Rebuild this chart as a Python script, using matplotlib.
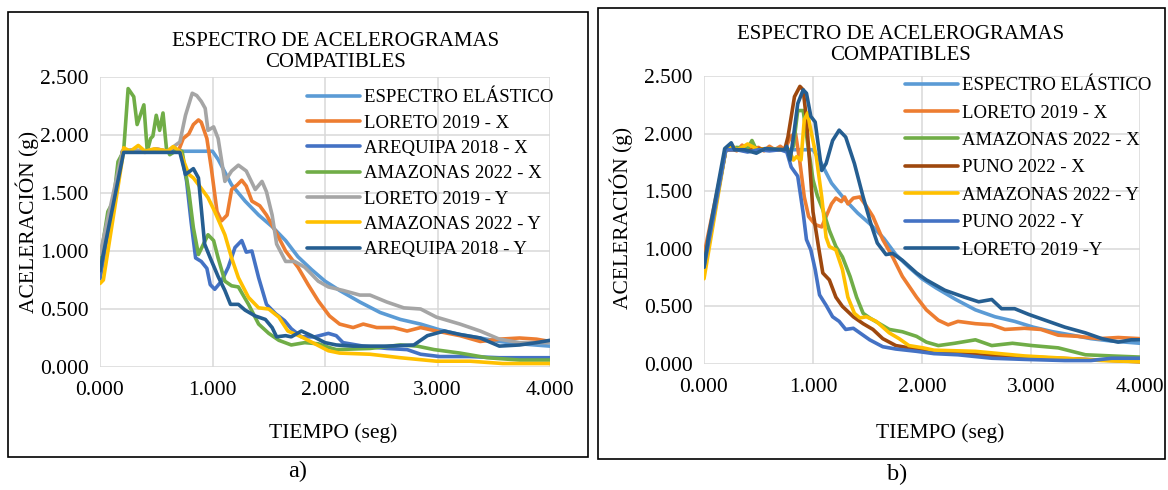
import matplotlib
matplotlib.use("Agg")
import matplotlib.pyplot as plt
from matplotlib.patches import Rectangle

plt.rcParams["font.family"] = ["Liberation Serif", "DejaVu Serif"]

# ---- datos: espectro elástico (común a ambos paneles)
esp_t = [0.0, 0.2, 1.0, 1.05, 1.17, 1.29, 1.41, 1.53, 1.65, 1.76, 1.88, 2.0, 2.13,
         2.31, 2.49, 2.67, 2.85, 3.02, 3.2, 3.38, 3.55, 3.73, 4.0]
esp_v = [0.80, 1.86, 1.86, 1.79, 1.57, 1.43, 1.31, 1.21, 1.09, 0.95, 0.84, 0.74, 0.66,
         0.56, 0.47, 0.41, 0.37, 0.32, 0.28, 0.25, 0.22, 0.20, 0.18]

# ---- panel a)
a_lorx_t = [0, 0.05, 0.1, 0.2, 0.3, 0.4, 0.5, 0.6, 0.7, 0.74, 0.79, 0.83, 0.875, 0.9, 0.95,
            0.99, 1.04, 1.08, 1.13, 1.17, 1.22, 1.26, 1.3, 1.35, 1.42, 1.48, 1.56, 1.65,
            1.76, 1.85, 1.94, 2.04, 2.13, 2.25, 2.34, 2.46, 2.61, 2.73, 2.85, 2.99, 3.2,
            3.38, 3.55, 3.73, 3.88, 4.0]
a_lorx_v = [0.78, 1.05, 1.35, 1.86, 1.87, 1.85, 1.88, 1.86, 1.87, 1.97, 2.01, 2.09, 2.13,
            2.11, 1.97, 1.71, 1.34, 1.26, 1.31, 1.53, 1.57, 1.61, 1.56, 1.43, 1.39, 1.31,
            1.17, 1.0, 0.86, 0.71, 0.57, 0.44, 0.37, 0.34, 0.37, 0.34, 0.34, 0.31, 0.34,
            0.31, 0.27, 0.22, 0.24, 0.25, 0.24, 0.22]

a_arex_t = [0, 0.2, 0.3, 0.4, 0.5, 0.6, 0.72, 0.77, 0.81, 0.85, 0.9, 0.95, 0.98, 1.02,
            1.08, 1.14, 1.2, 1.26, 1.3, 1.35, 1.41, 1.48, 1.56, 1.64, 1.7, 1.79, 1.91,
            2.03, 2.1, 2.16, 2.34, 2.55, 2.73, 2.85, 3.02, 3.29, 3.55, 4.0]
a_arex_v = [0.76, 1.86, 1.87, 1.86, 1.87, 1.86, 1.86, 1.6, 1.25, 0.94, 0.91, 0.85, 0.71,
            0.67, 0.74, 0.86, 1.03, 1.09, 0.99, 1.0, 0.77, 0.54, 0.46, 0.40, 0.33, 0.26,
            0.26, 0.29, 0.27, 0.21, 0.18, 0.16, 0.15, 0.11, 0.09, 0.09, 0.08, 0.08]

a_amax_t = [0, 0.015, 0.07, 0.12, 0.16, 0.21, 0.25, 0.3, 0.33, 0.39, 0.42, 0.45, 0.47,
            0.5, 0.53, 0.56, 0.59, 0.62, 0.67, 0.73, 0.79, 0.83, 0.875, 0.92, 0.96, 1.01,
            1.05, 1.11, 1.17, 1.23, 1.32, 1.41, 1.5, 1.59, 1.7, 1.82, 1.94, 2.03, 2.1,
            2.4, 2.67, 2.82, 2.97, 3.2, 3.44, 3.73, 4.0]
a_amax_v = [0.90, 1.0, 1.34, 1.43, 1.77, 1.86, 2.40, 2.33, 2.09, 2.26, 1.86, 1.97, 1.99,
            2.17, 2.04, 2.19, 1.89, 1.83, 1.86, 1.86, 1.51, 1.20, 0.97, 1.06, 1.14, 1.09,
            0.94, 0.74, 0.70, 0.69, 0.54, 0.37, 0.29, 0.23, 0.19, 0.21, 0.20, 0.17, 0.15,
            0.16, 0.19, 0.18, 0.15, 0.12, 0.08, 0.06, 0.06]

a_lory_t = [0, 0.2, 0.3, 0.4, 0.5, 0.6, 0.71, 0.76, 0.82, 0.86, 0.9, 0.935, 0.96, 1.01,
            1.05, 1.11, 1.17, 1.23, 1.3, 1.38, 1.44, 1.48, 1.53, 1.57, 1.65, 1.73, 1.82,
            1.94, 2.03, 2.16, 2.31, 2.4, 2.55, 2.7, 2.85, 2.99, 3.2, 3.38, 3.55, 3.73, 4.0]
a_lory_v = [0.97, 1.86, 1.87, 1.86, 1.88, 1.86, 1.94, 2.17, 2.36, 2.34, 2.29, 2.23, 2.04,
            2.07, 1.97, 1.60, 1.69, 1.74, 1.69, 1.53, 1.60, 1.51, 1.31, 1.06, 0.91, 0.91,
            0.86, 0.74, 0.69, 0.66, 0.62, 0.62, 0.56, 0.51, 0.50, 0.43, 0.37, 0.31, 0.24,
            0.21, 0.21]

a_amay_t = [0, 0.03, 0.2, 0.21, 0.27, 0.34, 0.4, 0.48, 0.55, 0.6, 0.65, 0.71, 0.79, 0.83,
            0.9, 0.96, 1.02, 1.11, 1.17, 1.23, 1.32, 1.41, 1.5, 1.59, 1.67, 1.79, 1.91,
            2.03, 2.13, 2.4, 2.67, 2.99, 3.29, 3.58, 4.0]
a_amay_v = [0.72, 0.75, 1.80, 1.89, 1.86, 1.91, 1.86, 1.88, 1.87, 1.86, 1.90, 1.86, 1.66,
            1.63, 1.54, 1.46, 1.34, 1.14, 0.94, 0.77, 0.60, 0.51, 0.50, 0.43, 0.31, 0.26,
            0.20, 0.14, 0.12, 0.11, 0.08, 0.05, 0.05, 0.03, 0.03]

a_arey_t = [0, 0.21, 0.3, 0.4, 0.5, 0.6, 0.71, 0.76, 0.83, 0.875, 0.93, 0.98, 1.05, 1.11,
            1.16, 1.23, 1.29, 1.38, 1.47, 1.53, 1.57, 1.65, 1.7, 1.79, 1.88, 2.0, 2.1,
            2.25, 2.55, 2.79, 2.91, 3.06, 3.2, 3.38, 3.55, 3.73, 3.88, 4.0]
a_arey_v = [0.83, 1.85, 1.85, 1.85, 1.85, 1.85, 1.85, 1.66, 1.71, 1.63, 1.06, 0.94, 0.78,
            0.66, 0.54, 0.54, 0.49, 0.44, 0.41, 0.34, 0.26, 0.27, 0.26, 0.31, 0.27, 0.21,
            0.19, 0.18, 0.18, 0.19, 0.27, 0.31, 0.28, 0.25, 0.18, 0.19, 0.21, 0.23]

# ---- panel b)
b_lorx_t = [0, 0.2, 0.25, 0.3, 0.35, 0.4, 0.5, 0.55, 0.6, 0.65, 0.7, 0.74, 0.8, 0.84, 0.88,
            0.92, 0.96, 1.02, 1.08, 1.12, 1.17, 1.21, 1.26, 1.29, 1.32, 1.37, 1.43, 1.49,
            1.55, 1.64, 1.73, 1.82, 1.95, 2.04, 2.15, 2.24, 2.33, 2.49, 2.64, 2.76, 2.94,
            3.09, 3.25, 3.43, 3.62, 3.8, 4.0]
b_lorx_v = [0.95, 1.86, 1.88, 1.85, 1.90, 1.86, 1.88, 1.85, 1.89, 1.86, 1.89, 1.86, 1.98,
            2.0, 1.75, 1.45, 1.28, 1.21, 1.19, 1.28, 1.39, 1.44, 1.41, 1.45, 1.39, 1.44,
            1.45, 1.37, 1.28, 1.08, 0.93, 0.76, 0.58, 0.47, 0.38, 0.34, 0.37, 0.35, 0.34,
            0.30, 0.31, 0.30, 0.25, 0.24, 0.22, 0.23, 0.22]

b_amax_t = [0, 0.2, 0.3, 0.4, 0.44, 0.48, 0.6, 0.7, 0.8, 0.82, 0.86, 0.91, 0.95, 1.0,
            1.04, 1.09, 1.15, 1.21, 1.27, 1.34, 1.4, 1.46, 1.52, 1.61, 1.7, 1.82, 1.95,
            2.04, 2.15, 2.3, 2.49, 2.64, 2.83, 3.01, 3.25, 3.5, 3.74, 4.0]
b_amax_v = [0.85, 1.86, 1.88, 1.87, 1.94, 1.86, 1.87, 1.86, 1.86, 1.89, 2.2, 2.2, 1.92,
            1.6, 1.46, 1.34, 1.16, 1.02, 0.93, 0.76, 0.58, 0.44, 0.40, 0.35, 0.30, 0.28,
            0.24, 0.19, 0.16, 0.18, 0.21, 0.16, 0.18, 0.16, 0.14, 0.08, 0.07, 0.06]

b_punx_t = [0, 0.2, 0.3, 0.4, 0.5, 0.6, 0.7, 0.74, 0.77, 0.83, 0.88, 0.91, 0.94, 0.97, 1.0,
            1.05, 1.09, 1.15, 1.21, 1.27, 1.37, 1.46, 1.55, 1.64, 1.76, 1.88, 2.01, 2.11,
            2.5, 3.0, 3.5, 4.0]
b_punx_v = [0.85, 1.86, 1.86, 1.85, 1.87, 1.86, 1.86, 1.86, 1.97, 2.32, 2.41, 2.38, 2.12,
            1.74, 1.32, 1.02, 0.79, 0.73, 0.58, 0.50, 0.41, 0.35, 0.30, 0.22, 0.16, 0.14,
            0.12, 0.11, 0.08, 0.06, 0.04, 0.02]

b_amay_t = [0, 0.2, 0.25, 0.3, 0.35, 0.4, 0.5, 0.6, 0.7, 0.78, 0.82, 0.85, 0.89, 0.92,
            0.95, 0.98, 1.03, 1.08, 1.12, 1.15, 1.21, 1.27, 1.32, 1.38, 1.43, 1.49, 1.58,
            1.64, 1.7, 1.79, 1.88, 2.01, 2.11, 2.49, 2.94, 3.31, 3.65, 4.0]
b_amay_v = [0.74, 1.86, 1.90, 1.86, 1.88, 1.91, 1.86, 1.87, 1.86, 1.86, 1.77, 1.80, 1.77,
            2.12, 2.18, 2.03, 1.80, 1.45, 1.10, 1.02, 0.99, 0.82, 0.58, 0.44, 0.40, 0.41,
            0.37, 0.32, 0.27, 0.22, 0.16, 0.14, 0.12, 0.11, 0.07, 0.05, 0.03, 0.02]

b_puny_t = [0, 0.2, 0.3, 0.4, 0.5, 0.6, 0.7, 0.76, 0.8, 0.86, 0.91, 0.94, 0.98, 1.02, 1.06,
            1.12, 1.18, 1.24, 1.3, 1.37, 1.43, 1.52, 1.64, 1.76, 1.95, 2.11, 2.33, 2.64,
            2.94, 3.31, 3.55, 3.74, 4.0]
b_puny_v = [0.84, 1.86, 1.86, 1.84, 1.86, 1.85, 1.86, 1.84, 1.71, 1.63, 1.31, 1.08, 0.99,
            0.82, 0.60, 0.51, 0.41, 0.37, 0.30, 0.31, 0.27, 0.21, 0.15, 0.13, 0.11, 0.09,
            0.08, 0.05, 0.04, 0.03, 0.03, 0.05, 0.05]

b_lory_t = [0, 0.04, 0.19, 0.25, 0.28, 0.37, 0.48, 0.56, 0.74, 0.76, 0.79, 0.82, 0.86,
            0.91, 0.94, 0.98, 1.02, 1.08, 1.12, 1.18, 1.24, 1.3, 1.38, 1.46, 1.53, 1.59,
            1.67, 1.73, 1.82, 1.95, 2.04, 2.21, 2.39, 2.52, 2.64, 2.73, 2.85, 2.98, 3.13,
            3.31, 3.5, 3.65, 3.8, 3.92, 4.0]
b_lory_v = [0.84, 1.10, 1.87, 1.92, 1.86, 1.86, 1.83, 1.87, 1.86, 1.89, 1.77, 1.97, 2.26,
            2.38, 2.35, 2.15, 2.10, 1.68, 1.74, 1.94, 2.03, 1.97, 1.74, 1.45, 1.22, 1.05,
            0.95, 0.96, 0.90, 0.79, 0.73, 0.64, 0.58, 0.54, 0.56, 0.48, 0.48, 0.43, 0.38,
            0.32, 0.27, 0.22, 0.19, 0.21, 0.21]

series_a = [
    ("ESPECTRO ELÁSTICO", esp_t, esp_v, "#5B9BD5"),
    ("LORETO 2019 - X", a_lorx_t, a_lorx_v, "#ED7D31"),
    ("AREQUIPA 2018 - X", a_arex_t, a_arex_v, "#4472C4"),
    ("AMAZONAS 2022 - X", a_amax_t, a_amax_v, "#70AD47"),
    ("LORETO 2019 - Y", a_lory_t, a_lory_v, "#A5A5A5"),
    ("AMAZONAS 2022 - Y", a_amay_t, a_amay_v, "#FFC000"),
    ("AREQUIPA 2018 - Y", a_arey_t, a_arey_v, "#255E91"),
]
series_b = [
    ("ESPECTRO ELÁSTICO", esp_t, esp_v, "#5B9BD5"),
    ("LORETO 2019 - X", b_lorx_t, b_lorx_v, "#ED7D31"),
    ("AMAZONAS 2022 - X", b_amax_t, b_amax_v, "#70AD47"),
    ("PUNO 2022 - X", b_punx_t, b_punx_v, "#9E480E"),
    ("AMAZONAS 2022 - Y", b_amay_t, b_amay_v, "#FFC000"),
    ("PUNO 2022 - Y", b_puny_t, b_puny_v, "#4472C4"),
    ("LORETO 2019 -Y", b_lory_t, b_lory_v, "#255E91"),
]

W, H = 1168, 490
fig = plt.figure(figsize=(W / 100, H / 100), dpi=100)


def px(x, y):
    return x / W, 1 - y / H


def panel(rect, series, leg_xy, leg_space):
    l, t, r, b = rect
    ax = fig.add_axes([l / W, 1 - b / H, (r - l) / W, (b - t) / H])
    for name, tt, vv, col in series:
        ax.plot(tt, vv, color=col, lw=2.6, label=name, solid_capstyle="round")
    ax.set_xlim(0, 4)
    ax.set_ylim(0, 2.5)
    ax.set_xticks([0, 1, 2, 3, 4])
    ax.set_yticks([0, 0.5, 1.0, 1.5, 2.0, 2.5])
    ax.set_xticklabels([f"{v:.3f}" for v in ax.get_xticks()])
    ax.set_yticklabels([f"{v:.3f}" for v in ax.get_yticks()])
    for s in ax.spines.values():
        s.set_visible(False)
    ax.grid(True, color="#D9D9D9", lw=1.1)
    ax.set_axisbelow(True)
    ax.tick_params(length=0, labelsize=15.5)
    ax.tick_params(axis="x", pad=10)
    ax.tick_params(axis="y", pad=8)
    ax.legend(loc="upper left", bbox_to_anchor=px(*leg_xy), bbox_transform=fig.transFigure,
              frameon=False, fontsize=13.5, handlelength=2.85, handletextpad=0.2,
              labelspacing=leg_space, borderpad=0, borderaxespad=0)
    return ax


panel((100, 77, 550, 367), series_a, (307, 89), 0.44)
panel((704, 76, 1140, 364), series_b, (905, 77), 0.55)

# marcos
fig.patches.append(Rectangle(px(8, 457), 580 / W, 445 / H, transform=fig.transFigure,
                             fill=False, lw=1.2, color="black"))
fig.patches.append(Rectangle(px(598, 459), 567 / W, 451 / H, transform=fig.transFigure,
                             fill=False, lw=1.2, color="black"))

# textos
fig.text(*px(336, 52), "ESPECTRO DE ACELEROGRAMAS\nCOMPATIBLES", ha="center", va="center",
         fontsize=15, linespacing=1.1)
fig.text(*px(901, 45), "ESPECTRO DE ACELEROGRAMAS\nCOMPATIBLES", ha="center", va="center",
         fontsize=15, linespacing=1.1)
fig.text(*px(27, 222), "ACELERACIÓN (g)", rotation=90, ha="center", va="center", fontsize=15.5)
fig.text(*px(621, 218), "ACELERACIÓN (g)", rotation=90, ha="center", va="center", fontsize=15.5)
fig.text(*px(333, 433), "TIEMPO (seg)", ha="center", va="center", fontsize=15.5)
fig.text(*px(940, 433), "TIEMPO (seg)", ha="center", va="center", fontsize=15.5)
fig.text(*px(298, 471), "a)", ha="center", va="center", fontsize=17.5)
fig.text(*px(897, 474), "b)", ha="center", va="center", fontsize=17.5)

fig.savefig("out.png", dpi=100)
